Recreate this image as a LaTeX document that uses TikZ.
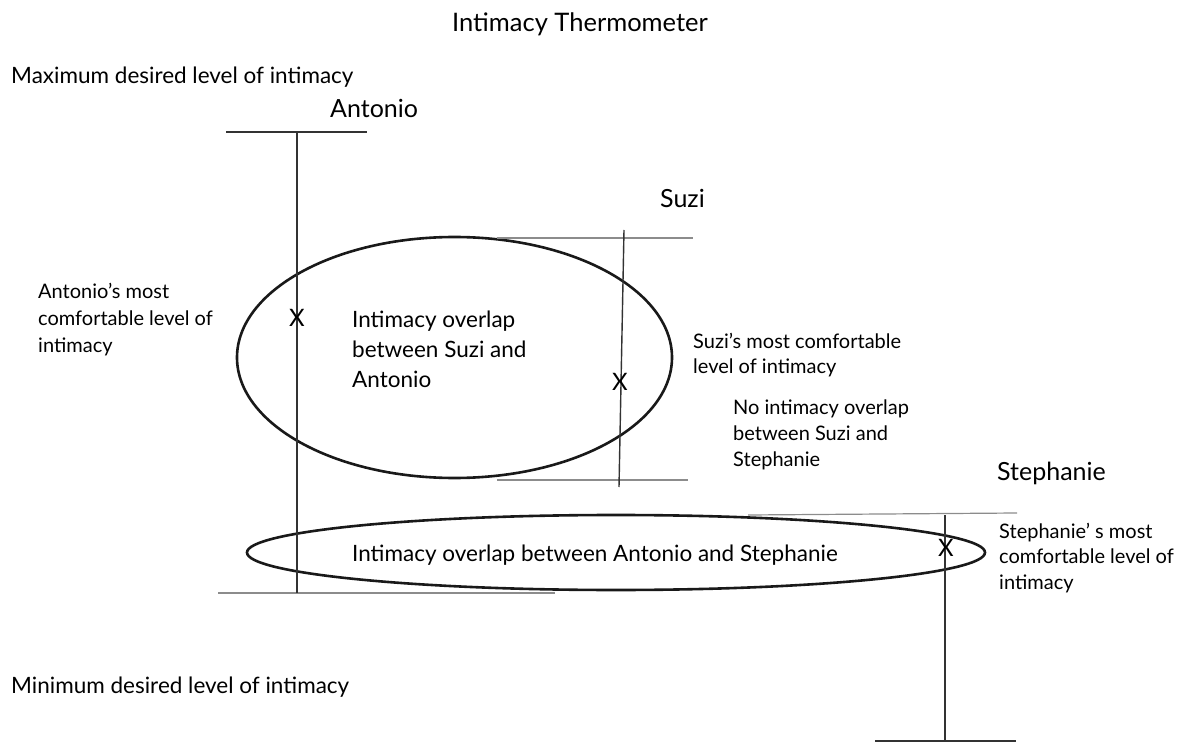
\documentclass[tikz,border=0pt]{standalone}
\usepackage{fontspec}
\setmainfont{Lato}
\begin{document}
\begin{tikzpicture}[x=1pt,y=-1pt,
  lbl/.style={inner sep=0pt,anchor=west,align=left},
  small/.style={lbl,font=\fontsize{20}{#1}\selectfont},
  biglbl/.style={lbl,font=\fontsize{22.5}{30}\selectfont},
  person/.style={lbl,font=\fontsize{25}{25}\selectfont},
  ruler/.style={line width=1.4pt,draw=black!80},
  bar/.style={line width=1.2pt,draw=black!45},
  blob/.style={line width=2.6pt,draw=black!90},
  xmark/.style={inner sep=0pt,font=\fontsize{24}{24}\selectfont}]
\useasboundingbox (0,0) rectangle (1184,743);
% texts
\node[inner sep=0pt,font=\fontsize{25.5}{25.5}\selectfont] (title) at (580,24) {Intimacy Thermometer};
\node[biglbl] (max) at (11,77) {Maximum desired level of intimacy};
\node[biglbl] (min) at (11,687) {Minimum desired level of intimacy};
\node[person] (antonio) at (330,108) {Antonio};
\node[person] (suzi) at (660,198) {Suzi};
\node[person] (stephanie) at (997,473) {Stephanie};
\node[small=27] (antlbl) at (38,320) {Antonio’s most\\comfortable level of\\intimacy};
\node[small=25] (suzilbl) at (693,355) {Suzi’s most comfortable\\level of intimacy};
\node[small=26] (nolbl) at (733,435) {No intimacy overlap\\between Suzi and\\Stephanie};
\node[small=25.5] (steplbl) at (999,558) {Stephanie’ s most\\comfortable level of\\intimacy};
% ellipses
\draw[blob] (454.5,357.5) ellipse [x radius=217.5, y radius=120.5];
\draw[blob] (616,552.5) ellipse [x radius=369, y radius=37.5];
\node[biglbl] (ov1) at (352,349) {Intimacy overlap\\between Suzi and\\Antonio};
\node[biglbl] (ov2) at (352,555) {Intimacy overlap between Antonio and Stephanie};
% Antonio scale
\coordinate (at1) at (226,132); \coordinate (at2) at (367,132);
\coordinate (atop) at (297,132); \coordinate (abot) at (297,593);
\coordinate (ab1) at (218,593); \coordinate (ab2) at (555,593);
\draw[ruler] (at1) -- (at2);
\draw[bar] (ab1) -- (ab2);
\draw[ruler] (atop) -- (abot);
\node[xmark] (ax) at (297,318) {X};
% Suzi scale
\coordinate (st1) at (497,238); \coordinate (st2) at (693,238);
\coordinate (sb1) at (497,480); \coordinate (sb2) at (688,480);
\coordinate (stop) at (624,230); \coordinate (sbot) at (619,487);
\draw[bar] (st1) -- (st2);
\draw[bar] (sb1) -- (sb2);
\draw[ruler] (stop) -- (sbot);
\node[xmark] (sx) at (620,382) {X};
% Stephanie scale
\coordinate (et1) at (748,515); \coordinate (et2) at (1017,513);
\coordinate (eb1) at (875,741); \coordinate (eb2) at (1016,741);
\coordinate (etop) at (945,515); \coordinate (ebot) at (945,741);
\draw[bar] (et1) -- (et2);
\draw[ruler] (eb1) -- (eb2);
\draw[ruler] (etop) -- (ebot);
\node[xmark] (ex) at (946,548) {X};
\end{tikzpicture}
\end{document}
